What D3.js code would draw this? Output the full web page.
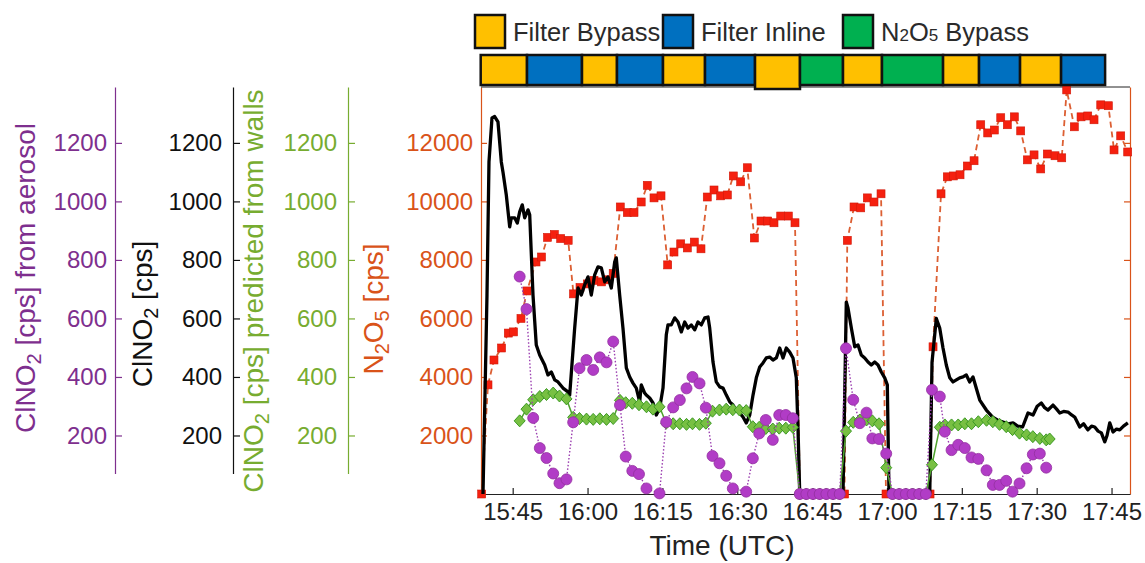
<!DOCTYPE html>
<html>
<head>
<meta charset="utf-8">
<script src="https://cdn.jsdelivr.net/npm/d3@7"></script>
<style>
  body { margin: 0; background: #fff; }
  svg { display: block; font-family: "Liberation Sans", Arial, sans-serif; }
</style>
</head>
<body>
<svg id="chart" width="1145" height="563"></svg>
<script>
// times are minutes after 15:00 UTC
const timeTicks = ["15:45", "16:00", "16:15", "16:30", "16:45", "17:00", "17:15", "17:30", "17:45"];
const cpsTicks = [200, 400, 600, 800, 1000, 1200];
const n2o5Ticks = [2000, 4000, 6000, 8000, 10000, 12000];

const modeNames = ["Filter Bypass", "Filter Inline", "N2O5 Bypass"];
const modeColors = ["#FFC000", "#0070C0", "#00B050"];
const modeSeq = [0, 1, 0, 1, 0, 1, 0, 2, 0, 2, 0, 1, 0, 1];
const modeEdges = [38.59, 47.87, 58.89, 65.90, 75.12, 83.54, 93.56, 102.57, 111.19, 119.0, 131.24, 138.45, 146.67, 154.89, 163.71];

// total ClNO2 (black line)
const clno2Time = [39.05, 39.85, 40.25, 40.85, 41.39, 42.05, 42.72, 43.06, 43.72, 44.40, 44.72, 45.40, 45.92, 46.40, 46.92, 47.40, 48.07, 48.41,
  49.07, 49.73, 50.41, 51.41, 52.07, 52.74, 53.42, 54.08, 55.08, 56.08, 56.42, 57.42, 58.09, 58.75, 59.43, 60.09, 60.75, 61.43, 62.09,
  62.76, 63.44, 64.10, 64.76, 65.44, 65.76, 66.44, 67.10, 67.77, 68.45, 69.11, 69.77, 70.45, 70.77, 71.45, 71.77, 72.45, 73.12, 73.78,
  74.46, 75.12, 75.78, 76.12, 76.78, 77.46, 78.13, 78.79, 79.47, 80.13, 80.79, 81.47, 82.13, 82.80, 83.48, 84.14, 84.48, 85.14, 85.80,
  86.48, 87.14, 87.81, 88.49, 89.15, 89.81, 90.49, 91.15, 91.81, 92.50, 93.16, 93.82, 94.50, 95.16, 95.82, 96.50, 97.16, 97.83, 98.51,
  99.17, 99.83, 100.51, 101.17, 101.83, 102.17, 102.52, 111.19, 111.85, 112.19, 112.86, 113.54, 114.20, 114.86, 115.54, 116.20, 116.86,
  117.54, 118.21, 118.87, 119.55, 120.07, 120.41, 128.57, 129.03, 129.89, 130.57, 131.23, 131.89, 132.58, 133.24, 133.90, 134.58, 135.24,
  135.90, 136.58, 137.24, 138.59, 139.91, 141.17, 142.20, 143.26, 144.26, 145.26, 146.20, 147.18, 148.27, 149.27, 150.10, 150.93, 151.60,
  152.27, 153.27, 154.00, 154.62, 155.40, 156.28, 157.00, 157.62, 158.63, 159.40, 160.25, 161.00, 161.63, 162.30, 162.96, 163.64, 164.10,
  164.64, 165.30, 166.00, 166.64, 167.40, 168.27];
const clno2Cps = [0, 680, 1135, 1285, 1290, 1272, 1135, 1100, 1022, 913, 944, 944, 926, 964, 988, 944, 971, 954,
  680, 509, 475, 441, 407, 417, 390, 383, 362, 349, 338, 567, 704, 680, 715, 742, 680, 749, 776,
  773, 725, 742, 704, 793, 807, 680, 567, 431, 400, 379, 362, 315, 373, 345, 338, 328, 311, 270,
  294, 362, 544, 578, 578, 602, 588, 554, 588, 567, 578, 561, 588, 578, 602, 605, 567, 451, 383,
  366, 362, 338, 315, 304, 287, 277, 263, 243, 270, 338, 397, 434, 448, 465, 468, 458, 465, 499,
  465, 499, 485, 465, 397, 226, 0, 0, 656, 636, 567, 503, 509, 475, 465, 451, 441,
  451, 441, 417, 397, 373, 0, 0, 451, 600, 567, 499, 441, 397, 383, 390, 397, 400,
  407, 383, 400, 321, 287, 263, 252, 246, 240, 243, 232, 229, 277, 270, 300, 311, 295,
  287, 304, 290, 277, 282, 280, 270, 263, 229, 240, 219, 232, 229, 215, 209, 178, 200,
  243, 212, 222, 219, 232, 243];

// N2O5 (red squares, dashed)
const n2o5Time = [38.79, 40.05, 41.25, 42.76, 44.12, 45.16, 46.66, 47.87, 49.67, 50.77, 51.97, 53.34, 54.62, 56.12, 57.18, 58.49, 59.95,
  61.29, 62.80, 64.10, 65.14, 66.56, 67.97, 69.31, 70.75, 71.97, 73.32, 74.72, 76.06, 77.32, 78.67, 79.99, 81.39, 82.73, 83.99, 85.34,
  86.68, 88.01, 89.21, 90.69, 92.01, 93.42, 94.76, 96.10, 97.36, 98.71, 100.23, 101.57, 102.57, 111.49, 112.05, 113.40, 114.74, 116.06,
  117.40, 118.81, 119.81, 128.63, 129.23, 130.83, 132.09, 133.30, 134.64, 136.10, 137.45, 138.79, 140.19, 141.51, 142.80, 144.12, 145.52,
  146.80, 148.13, 149.47, 150.81, 152.13, 153.68, 155.02, 156.02, 157.54, 158.89, 160.23, 161.49, 162.84, 164.36, 165.50, 166.84, 168.24];
const n2o5Cps = [0, 3730, 4580, 4990, 5500, 5540, 6000, 6940, 7930, 8100, 8770, 8870, 8730, 8670, 6840, 7060, 7180,
  7300, 7250, 7320, 7540, 9810, 9620, 9620, 9980, 10550, 10120, 10190, 7830, 8270, 8550, 8410, 8610, 8380, 10150, 10390,
  10190, 10220, 10870, 10670, 11150, 8750, 9330, 9330, 9270, 9500, 9500, 9270, 0, 0, 8670, 9810, 9780, 10120,
  9980, 10260, 0, 0, 5030, 10260, 10840, 10870, 10910, 11210, 11390, 12620, 12340, 12440, 12860, 12620, 12890,
  12410, 11420, 11590, 11110, 11620, 11560, 11490, 13810, 12550, 12890, 12920, 12790, 13300, 13270, 11760, 12240, 11690];

// ClNO2 from aerosol (purple circles)
const aeroTime = [46.40, 47.77, 49.11, 50.43, 51.77, 53.12, 54.38, 55.78, 57.12, 58.39, 59.79, 61.13, 62.46, 63.80, 65.14, 66.50,
  67.65, 68.97, 70.31, 71.81, 74.42, 75.76, 77.16, 78.49, 79.83, 81.03, 82.44, 83.70, 85.04, 86.44, 87.79, 89.11, 91.79, 93.12,
  94.40, 95.72, 97.12, 98.41, 99.73, 101.13, 102.52, 103.84, 105.18, 106.52, 107.85, 109.19, 110.53, 111.79, 113.24, 114.56,
  115.90, 117.07, 118.41, 119.85, 121.11, 122.46, 123.78, 125.12, 126.46, 127.79, 129.02, 130.59, 131.59, 132.94, 134.28,
  135.60, 136.94, 138.31, 139.95, 141.21, 142.56, 143.90, 145.16, 146.56, 147.97, 149.23, 150.63, 151.91];
const aeroCps = [743, 632, 260, 157, 123, 70, 37, 50, 245, 430, 458, 424, 467, 450, 521, 304,
  128, 79, 68, 19, 2, 246, 296, 321, 361, 400, 378, 295, 130, 105, 62, 19, 8, 122,
  207, 253, 185, 270, 270, 259, 0, 0, 0, 0, 0, 0, 0, 498, 322, 242,
  278, 190, 188, 138, 0, 0, 0, 0, 0, 0, 356, 333, 213, 150, 168,
  157, 125, 120, 81, 31, 31, 45, 8, 36, 88, 135, 138, 90];

// ClNO2 predicted from walls (green diamonds)
const wallTime = [46.40, 47.77, 49.11, 50.43, 51.77, 53.12, 54.38, 55.78, 57.12, 58.39, 59.79, 61.13, 62.46, 63.80, 65.14, 66.50,
  67.65, 68.97, 70.31, 71.81, 73.10, 74.42, 75.76, 77.16, 78.49, 79.83, 81.03, 82.44, 83.70, 85.04, 86.44, 87.79, 89.11, 90.45,
  91.79, 93.12, 94.40, 95.72, 97.12, 98.41, 99.73, 101.13, 102.52, 103.84, 105.18, 106.52, 107.85, 109.19, 110.53, 111.79,
  113.24, 114.56, 115.90, 117.07, 118.41, 119.85, 121.11, 122.46, 123.78, 125.12, 126.46, 127.79, 129.02, 130.59, 131.59,
  132.94, 134.28, 135.60, 136.94, 138.31, 139.95, 141.21, 142.56, 143.90, 145.16, 146.56, 147.97, 149.23, 150.63, 151.91, 152.60];
const wallCps = [250, 290, 322, 333, 340, 345, 335, 325, 262, 258, 256, 255, 257, 255, 258, 320,
  312, 310, 305, 298, 290, 298, 242, 240, 240, 238, 240, 238, 242, 283, 287, 290, 288, 287,
  285, 230, 228, 224, 222, 225, 225, 228, 0, 0, 0, 0, 0, 0, 0, 215,
  245, 253, 253, 250, 240, 90, 0, 0, 0, 0, 0, 0, 100, 228, 236,
  236, 236, 240, 240, 247, 252, 247, 238, 230, 220, 208, 202, 196, 190, 185, 188];

const purple = "#7E2F8E", green = "#77AC30", orange = "#D95319", ink = "#222";

function minutes(label) {
  let p = label.split(":");
  return (+p[0] - 15) * 60 + +p[1];
}
function clock(m) {
  let h = 15 + Math.floor(m / 60), mm = Math.round(m % 60);
  return h + ":" + String(mm).padStart(2, "0");
}
function zip(t, v) {
  return t.map((d, i) => ({ t: d, v: v[i] }));
}

renderChart();

function renderChart() {
  let svg = d3.select("#chart");
  let left = 481, right = 1130, top = 87, bottom = 494;
  let plain = d3.format("d");

  let x = d3.scaleLinear().domain([38.65, 168.7]).range([left, right]);
  let yN = d3.scaleLinear().domain([0, 13910]).range([bottom, top]);
  let yC = d3.scaleLinear().domain([0, 1391]).range([bottom, top]);

  svg.append("rect").attr("width", 1145).attr("height", 563).attr("fill", "#fff");

  svg.append("defs").append("clipPath").attr("id", "plotclip")
    .append("rect").attr("x", left).attr("y", top - 5).attr("width", right - left).attr("height", bottom - top + 5);

  // stacked left axes for the ClNO2 series
  let stackScale = d3.scaleLinear().domain([70, 1391]).range([yC(70), top]);
  let stacked = [
    { x: 115, color: purple, pad: 8 },
    { x: 233, color: "#111", pad: 11 },
    { x: 348, color: green, pad: 11 },
  ];
  stacked.forEach(function (s) {
    let g = svg.append("g")
      .attr("transform", "translate(" + s.x + ",0)")
      .call(d3.axisLeft(stackScale).tickValues(cpsTicks).tickFormat(plain)
        .tickSizeInner(-7).tickSizeOuter(0).tickPadding(s.pad));
    styleAxis(g, s.color, s.color);
  });

  // N2O5 axis on the left of the plot, plain ticks on the right
  let gN = svg.append("g")
    .attr("transform", "translate(" + left + ",0)")
    .call(d3.axisLeft(yN).tickValues(n2o5Ticks).tickFormat(plain)
      .tickSizeInner(-6).tickSizeOuter(0).tickPadding(8));
  styleAxis(gN, orange, orange);

  let gR = svg.append("g")
    .attr("transform", "translate(" + right + ",0)")
    .call(d3.axisRight(yN).tickValues(n2o5Ticks).tickSizeInner(-6).tickSizeOuter(0).tickFormat(""));
  styleAxis(gR, orange, orange);

  let gX = svg.append("g")
    .attr("transform", "translate(0," + bottom + ")")
    .call(d3.axisBottom(x).tickValues(timeTicks.map(minutes)).tickFormat(clock)
      .tickSizeInner(-6).tickSizeOuter(0).tickPadding(9));
  styleAxis(gX, ink, ink);

  svg.append("line")
    .attr("x1", left).attr("x2", right).attr("y1", top).attr("y2", top)
    .attr("stroke", ink).attr("stroke-width", 1);

  // series
  let plot = svg.append("g");

  let n2o5 = zip(n2o5Time, n2o5Cps);
  plot.append("path")
    .datum(n2o5)
    .attr("clip-path", "url(#plotclip)")
    .attr("fill", "none")
    .attr("stroke", "#DC5F33")
    .attr("stroke-width", 1.8)
    .attr("stroke-dasharray", "6,4")
    .attr("d", d3.line().x((d) => x(d.t)).y((d) => yN(d.v)));
  plot.append("g")
    .selectAll("rect")
    .data(n2o5)
    .enter()
    .append("rect")
    .attr("x", (d) => x(d.t) - 4)
    .attr("y", (d) => yN(d.v) - 4)
    .attr("width", 8)
    .attr("height", 8)
    .attr("fill", "#F5200F")
    .attr("stroke", "#D01A0A")
    .attr("stroke-width", 0.6);

  plot.append("path")
    .datum(zip(clno2Time, clno2Cps))
    .attr("clip-path", "url(#plotclip)")
    .attr("fill", "none")
    .attr("stroke", "#000")
    .attr("stroke-width", 3.3)
    .attr("stroke-linejoin", "round")
    .attr("d", d3.line().x((d) => x(d.t)).y((d) => yC(d.v)));

  let wall = zip(wallTime, wallCps);
  plot.append("path")
    .datum(wall)
    .attr("clip-path", "url(#plotclip)")
    .attr("fill", "none")
    .attr("stroke", "#4FA22E")
    .attr("stroke-width", 1.5)
    .attr("d", d3.line().x((d) => x(d.t)).y((d) => yC(d.v)));
  plot.append("g")
    .selectAll("path")
    .data(wall)
    .enter()
    .append("path")
    .attr("transform", (d) => "translate(" + x(d.t) + "," + yC(d.v) + ")")
    .attr("d", "M0,-6L5.5,0L0,6L-5.5,0Z")
    .attr("fill", "#78C043")
    .attr("stroke", "#3C9A24")
    .attr("stroke-width", 1);

  let aero = zip(aeroTime, aeroCps);
  plot.append("path")
    .datum(aero)
    .attr("clip-path", "url(#plotclip)")
    .attr("fill", "none")
    .attr("stroke", "#9B3FB0")
    .attr("stroke-width", 1.4)
    .attr("stroke-dasharray", "1.5,2")
    .attr("d", d3.line().x((d) => x(d.t)).y((d) => yC(d.v)));
  plot.append("g")
    .selectAll("circle")
    .data(aero)
    .enter()
    .append("circle")
    .attr("cx", (d) => x(d.t))
    .attr("cy", (d) => yC(d.v))
    .attr("r", 5.5)
    .attr("fill", "#B13CC6")
    .attr("stroke", "#93309F")
    .attr("stroke-width", 0.8);

  // sampling mode bar
  let bar = svg.append("g");
  bar.selectAll("rect")
    .data(modeSeq)
    .enter()
    .append("rect")
    .attr("x", (d, i) => x(modeEdges[i]))
    .attr("y", 55)
    .attr("width", (d, i) => x(modeEdges[i + 1]) - x(modeEdges[i]))
    .attr("height", (d, i) => (i === 6 ? 34 : 30))
    .attr("fill", (d) => modeColors[d])
    .attr("stroke", "#111")
    .attr("stroke-width", 2.5);

  // legend
  let legendX = [475, 663, 843];
  let legend = svg.append("g");
  modeNames.forEach(function (name, i) {
    legend.append("rect")
      .attr("x", legendX[i]).attr("y", 15)
      .attr("width", 30).attr("height", 33)
      .attr("fill", modeColors[i])
      .attr("stroke", "#111").attr("stroke-width", 2.5);
    let t = legend.append("text")
      .attr("x", legendX[i] + 38).attr("y", 41)
      .attr("font-size", 25.5).attr("fill", "#2a2a2a");
    if (i === 2) {
      t.append("tspan").text("N");
      t.append("tspan").attr("font-size", 17).text("2");
      t.append("tspan").text("O");
      t.append("tspan").attr("font-size", 17).text("5");
      t.append("tspan").text(" Bypass");
    } else {
      t.text(name);
    }
  });

  // axis titles
  svg.append("text")
    .attr("x", 722).attr("y", 555)
    .attr("text-anchor", "middle")
    .attr("font-size", 28).attr("fill", ink)
    .text("Time (UTC)");

  rotatedLabel(svg, 35, 278, purple, ["ClNO", "2", " [cps] from aerosol"]);
  rotatedLabel(svg, 152, 314, "#111", ["ClNO", "2", " [cps]"]);
  rotatedLabel(svg, 263, 291, green, ["ClNO", "2", " [cps] predicted from walls"]);
  rotatedLabel(svg, 383, 309, orange, ["N", "2", "O", "5", " [cps]"]);
}

function styleAxis(g, lineColor, textColor) {
  g.attr("font-size", 24).attr("font-family", null);
  g.selectAll("path, line").attr("stroke", lineColor).attr("stroke-width", 1.2);
  g.selectAll("text").attr("fill", textColor);
}

// parts alternate normal / subscript
function rotatedLabel(svg, px, py, color, parts) {
  let t = svg.append("text")
    .attr("transform", "translate(" + px + "," + py + ") rotate(-90)")
    .attr("text-anchor", "middle")
    .attr("font-size", 28)
    .attr("fill", color);
  parts.forEach(function (p, i) {
    let s = t.append("tspan").text(p);
    if (i % 2 === 1) s.attr("font-size", 20).attr("dy", 6);
    else if (i > 0) s.attr("dy", -6);
  });
}
</script>
</body>
</html>
